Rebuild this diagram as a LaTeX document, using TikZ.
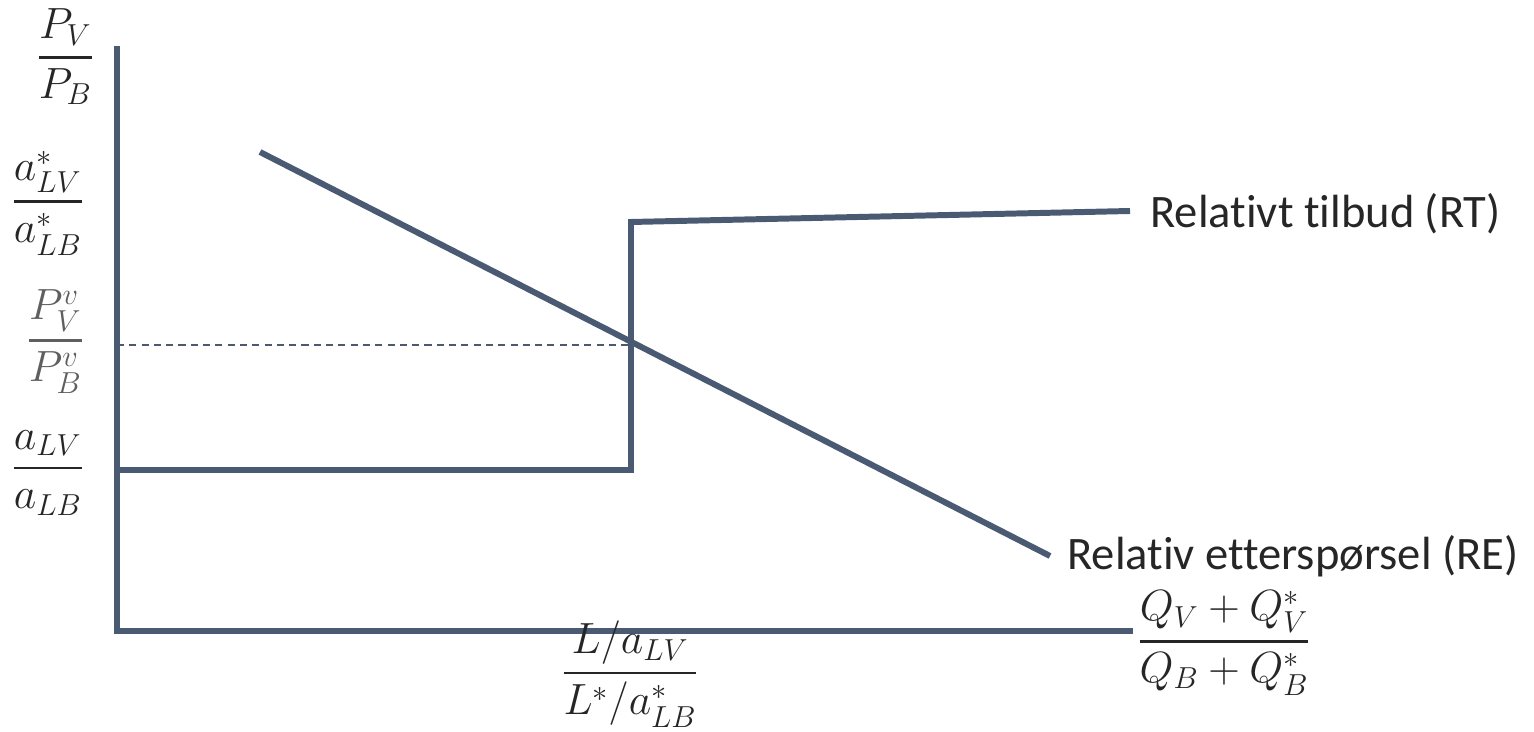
\documentclass[tikz,border=0pt]{standalone}
\usepackage{fontspec}
\setmainfont{Carlito}[Ligatures=NoCommon]
\usepackage{amsmath}
\usetikzlibrary{positioning}

\definecolor{linje}{RGB}{74,90,115}
\definecolor{graa}{RGB}{95,95,95}
\definecolor{tekst}{RGB}{38,38,38}

\newcommand{\brk}[2]{\genfrac{}{}{1.4pt}{0}{#1}{#2}}

\tikzset{
  kurve/.style={draw=linje,line width=3.4pt},
  akse/.style={draw=linje,line width=3.4pt},
  hjelp/.style={draw=linje,line width=0.8pt,dash pattern=on 4pt off 3pt},
  brok/.style={text=tekst,inner sep=0pt,font=\fontsize{23}{28}\selectfont},
  navn/.style={text=tekst,inner sep=0pt,font=\fontsize{26.5}{30}\selectfont}
}

\begin{document}
\begin{tikzpicture}[x=0.02cm,y=-0.02cm]
\useasboundingbox (0,0) rectangle (1534,732);
% akser
\coordinate (O) at (117,631);
\coordinate (ytopp) at (117,46);
\coordinate (xende) at (1133,631);
\draw[akse] (ytopp) -- (O) -- (xende);
% relativt tilbud
\coordinate (rt1) at (117,470);
\coordinate (rt2) at (631,470);
\coordinate (rt3) at (631,222);
\coordinate (rt4) at (1130,211);
\draw[kurve,line join=miter] (rt1) -- (rt2) -- (rt3) -- (rt4);
% relativ etterspoersel
\coordinate (re1) at (260,152);
\coordinate (re2) at (1050,556);
\draw[kurve] (re1) -- (re2);
% likevekt
\coordinate (lik) at (631,345);
\draw[hjelp] (117,345) -- (lik);
% tekst
\node[brok,anchor=east] (pv) at (94,57) {$\brk{P_V}{P_B}$};
\node[brok,anchor=east] (astjerne) at (84,203) {$\brk{a_{LV}^*}{a_{LB}^*}$};
\node[brok,anchor=east,text=graa] (pvv) at (84,342) {$\brk{P_V^v}{P_B^v}$};
\node[brok,anchor=east] (a) at (84,473) {$\brk{a_{LV}}{a_{LB}}$};
\node[brok] (lpunkt) at (630,674) {$\brk{L/a_{LV}}{L^*/a_{LB}^*}$};
\node[brok] (q) at (1224,643) {$\brk{Q_V+Q_V^*}{Q_B+Q_B^*}$};
\node[navn,anchor=base west] (rt) at (1150,228) {Relativt tilbud (RT)};
\node[navn,anchor=base west] (re) at (1067,569) {Relativ etterspørsel (RE)};
\end{tikzpicture}
\end{document}
